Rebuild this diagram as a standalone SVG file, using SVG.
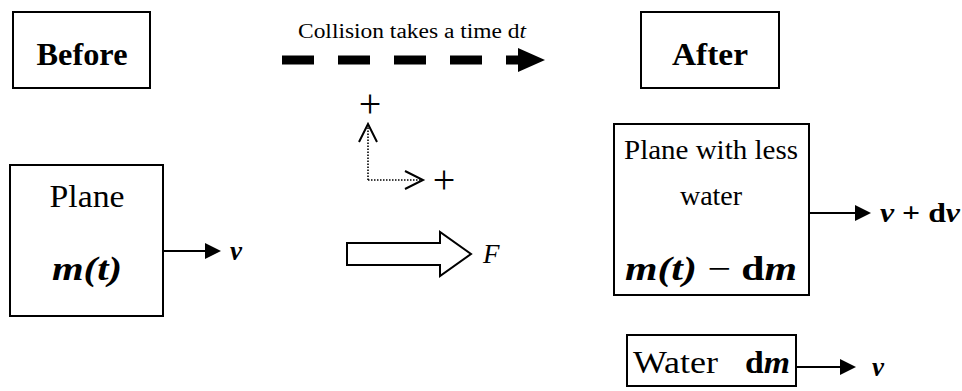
<svg xmlns="http://www.w3.org/2000/svg" width="962" height="391" viewBox="0 0 962 391">
<style>
.box{fill:#fff;stroke:#000;stroke-width:2}
.t{font-family:"Liberation Serif","DejaVu Serif",serif;fill:#000;text-anchor:middle;dominant-baseline:central}
.l{font-family:"Liberation Serif","DejaVu Serif",serif;fill:#000;dominant-baseline:central}
.b{font-weight:bold}
.i{font-style:italic}
.line{stroke:#000;stroke-width:2;fill:none}
.dash{stroke:#000;stroke-width:9;fill:none;stroke-dasharray:32 24}
.dot{stroke:#000;stroke-width:1.6;fill:none;stroke-dasharray:1.5 1.5}
.chev{stroke:#000;stroke-width:2;fill:none}
</style>
<rect width="962" height="391" fill="#fff"/>
<g id="before">
<rect class="box" x="13" y="12" width="137" height="76"/>
<text class="t b" x="82" y="54" font-size="31" textLength="91" lengthAdjust="spacingAndGlyphs">Before</text>
</g>
<g id="after">
<rect class="box" x="641" y="12" width="138" height="76"/>
<text class="t b" x="710" y="54" font-size="31" textLength="76" lengthAdjust="spacingAndGlyphs">After</text>
</g>
<g id="collision">
<text class="t" x="412" y="31" font-size="20" textLength="228" lengthAdjust="spacingAndGlyphs">Collision takes a time d<tspan class="i">t</tspan></text>
</g>
<g id="plane">
<rect class="box" x="10" y="165" width="153" height="151"/>
<text class="t" x="87" y="196" font-size="31" textLength="75" lengthAdjust="spacingAndGlyphs">Plane</text>
<text class="t b i" x="87" y="268" font-size="34" textLength="70" lengthAdjust="spacingAndGlyphs">m(t)</text>
</g>
<g id="axes">
<path class="dot" d="M368,180 V126 M368,180 H421"/>
<path class="chev" d="M359,142 L368,124 L377,142 M405,171 L423,180 L405,189"/>
<text class="t" x="370" y="103" font-size="40">+</text>
<text class="t" x="444" y="179" font-size="40">+</text>
</g>
<g id="force">
<polygon points="347,243 440,243 440,232 471,254 440,276 440,265 347,265" fill="#fff" stroke="#000" stroke-width="2"/>
<text class="l i" x="483" y="254" font-size="27">F</text>
</g>
<g id="planeLess">
<rect class="box" x="614" y="124" width="195" height="171"/>
<text class="t" x="711" y="149" font-size="28" textLength="174" lengthAdjust="spacingAndGlyphs">Plane with less</text>
<text class="t" x="711" y="195" font-size="28">water</text>
<text class="t" x="711" y="268" font-size="34" textLength="172" lengthAdjust="spacingAndGlyphs"><tspan class="b i">m(t)</tspan> − <tspan class="b">d</tspan><tspan class="b i">m</tspan></text>
</g>
<g id="water">
<rect class="box" x="627" y="335" width="169" height="51"/>
<text class="l" x="633" y="362" font-size="31" textLength="85" lengthAdjust="spacingAndGlyphs">Water</text>
<text class="l" x="745" y="362" font-size="31" textLength="45" lengthAdjust="spacingAndGlyphs"><tspan class="b">d</tspan><tspan class="b i">m</tspan></text>
</g>
<g id="connectors">
<path class="dash" d="M282,60 H520"/>
<polygon points="518,48 545,60 518,72" fill="#000"/>
<line class="line" x1="163" y1="251" x2="206" y2="251"/>
<polygon points="205,243 221,251 205,259" fill="#000"/>
<line class="line" x1="809" y1="213" x2="856" y2="213"/>
<polygon points="855,205 871,213 855,221" fill="#000"/>
<line class="line" x1="796" y1="367" x2="841" y2="367"/>
<polygon points="840,359 856,367 840,375" fill="#000"/>
</g>
<g id="labels">
<text class="l b i" x="230" y="251" font-size="27">v</text>
<text class="l" x="880" y="213" font-size="27" textLength="80" lengthAdjust="spacingAndGlyphs"><tspan class="b i">v</tspan><tspan class="b"> + d</tspan><tspan class="b i">v</tspan></text>
<text class="l b i" x="872" y="367" font-size="27">v</text>
</g>
</svg>
